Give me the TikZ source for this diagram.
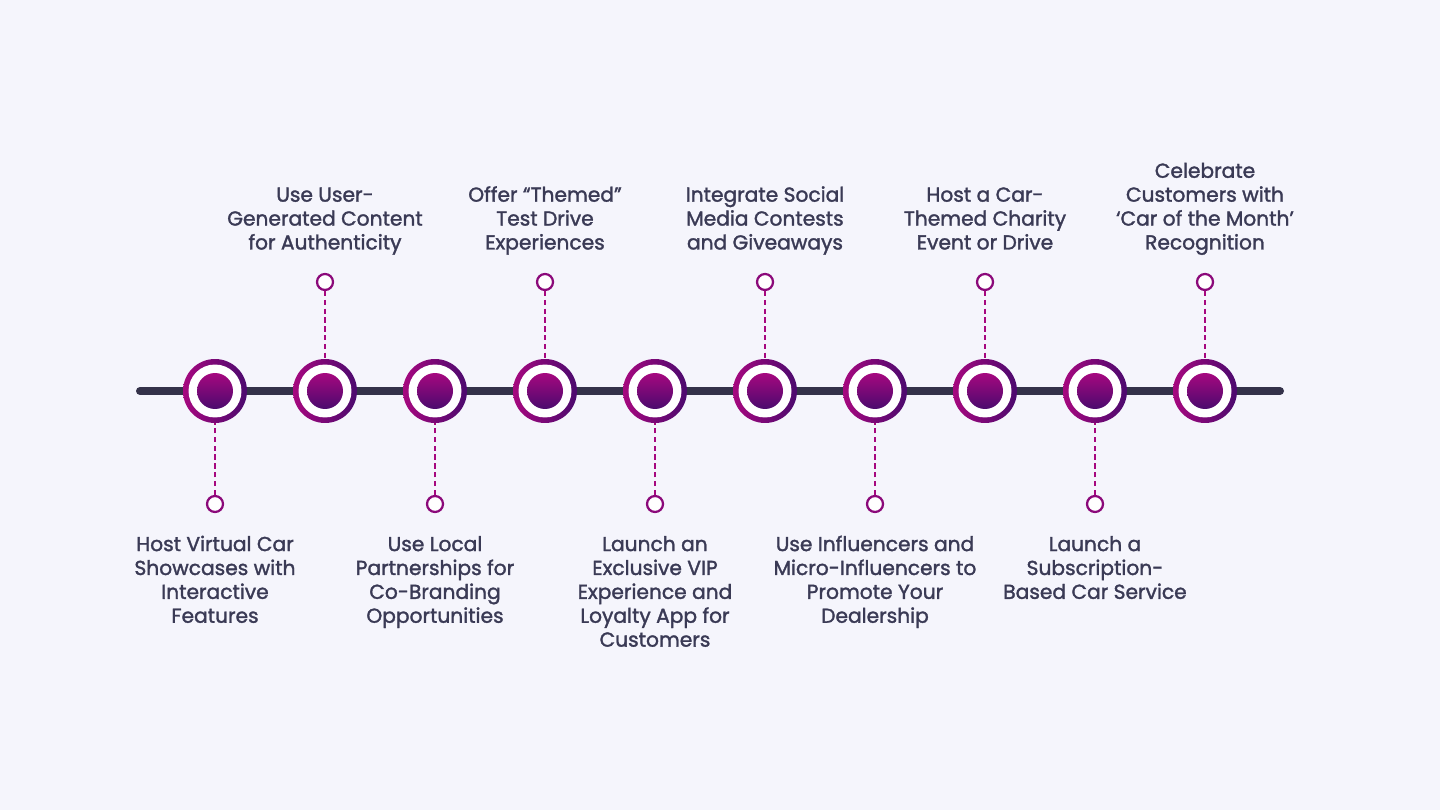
\documentclass[tikz,border=0pt]{standalone}
\usepackage{fontspec}
\setmainfont{Poppins}[FakeBold=1.6]
\definecolor{bgc}{HTML}{F5F5FC}
\definecolor{axis}{HTML}{34324A}
\definecolor{mag}{HTML}{A6087F}
\definecolor{plum}{HTML}{4B0A6E}
\definecolor{txt}{HTML}{3A3A55}
\begin{document}
\begin{tikzpicture}[x=0.02cm,y=-0.02cm,line width=0.2mm]
  \tikzstyle{label} = [text=txt,font=\fontsize{11.5}{13.6}\selectfont,align=center]
  \tikzstyle{stem} = [draw=mag,densely dashed,line width=0.4mm]
  \tikzstyle{pin} = [circle,draw=mag!70!plum,fill=white,line width=0.45mm,minimum size=0.32cm,inner sep=0pt]
  \fill[bgc] (0,0) rectangle (1440,810);
  \useasboundingbox (0,0) rectangle (1440,810);
  \coordinate (L) at (140,391);
  \coordinate (R) at (1280,391);
  \draw[axis,line width=0.16cm,line cap=round] (L) -- (R);

  \def\up{above}
  \foreach \i/\pos/\txt in {
      0/below/{Host Virtual Car\\Showcases with\\Interactive\\Features},
      1/above/{Use User-\\Generated Content\\for Authenticity},
      2/below/{Use Local\\Partnerships for\\Co-Branding\\Opportunities},
      3/above/{Offer “Themed”\\Test Drive\\Experiences},
      4/below/{Launch an\\Exclusive VIP\\Experience and\\Loyalty App for\\Customers},
      5/above/{Integrate Social\\Media Contests\\and Giveaways},
      6/below/{Use Influencers and\\Micro-Influencers to\\Promote Your\\Dealership},
      7/above/{Host a Car-\\Themed Charity\\Event or Drive},
      8/below/{Launch a\\Subscription-\\Based Car Service},
      9/above/{Celebrate\\Customers with\\‘Car of the Month’\\Recognition}} {
    \coordinate (c\i) at (215+110*\i,391);
    \ifx\pos\up
      \node[pin] (p\i) at (215+110*\i,282) {};
      \node[label,anchor=south] (t\i) at (215+110*\i,263) {\txt\strut};
    \else
      \node[pin] (p\i) at (215+110*\i,504) {};
      \node[label,anchor=north] (t\i) at (215+110*\i,528) {\strut\txt};
    \fi
    \draw[stem] (p\i) -- (c\i);
    \shade[left color=mag,right color=plum] (c\i) circle (0.64cm);
    \fill[white] (c\i) circle (0.53cm);
    \shade[top color=mag,bottom color=plum] (c\i) circle (0.36cm);
  }
\end{tikzpicture}
\end{document}
